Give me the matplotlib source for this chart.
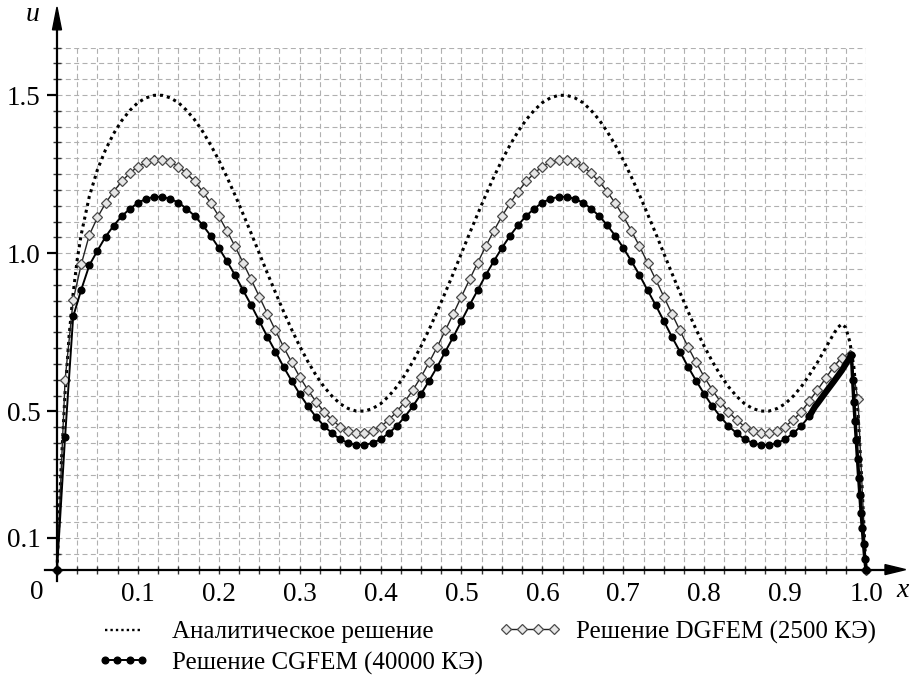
import numpy as np
import matplotlib
matplotlib.use("Agg")
import matplotlib.pyplot as plt
from matplotlib.patches import Polygon
from matplotlib.lines import Line2D

# ---------------- data ----------------
# analytic solution
an_head_x = [0.0, 0.005, 0.01, 0.015, 0.02, 0.025]
an_head_u = [0.0, 0.32, 0.56, 0.74, 0.874, 0.98]
an_mid_x = np.round(np.arange(3, 97) * 0.01, 2)          # 0.03 ... 0.96
an_mid_u = [1.060, 1.180, 1.264, 1.327, 1.378, 1.419, 1.451,
            1.476, 1.491, 1.499, 1.499, 1.491, 1.476, 1.452, 1.422, 1.385, 1.342,
            1.294, 1.241, 1.184, 1.124, 1.063, 1.000, 0.937, 0.876, 0.816, 0.759,
            0.706, 0.658, 0.615, 0.578, 0.548, 0.524, 0.509, 0.501, 0.501, 0.509,
            0.524, 0.548, 0.578, 0.615, 0.658, 0.706, 0.759, 0.816, 0.876, 0.937,
            1.000, 1.063, 1.124, 1.184, 1.241, 1.294, 1.342, 1.385, 1.422, 1.452,
            1.476, 1.491, 1.499, 1.499, 1.491, 1.476, 1.452, 1.422, 1.385, 1.342,
            1.294, 1.241, 1.184, 1.124, 1.063, 1.000, 0.937, 0.876, 0.816, 0.759,
            0.706, 0.658, 0.615, 0.578, 0.548, 0.524, 0.509, 0.501, 0.501, 0.509,
            0.524, 0.548, 0.578, 0.615, 0.655, 0.700, 0.745]
an_tail_x = [0.965, 0.97, 0.975, 0.98, 0.985, 0.99, 0.995, 1.0]
an_tail_u = [0.765, 0.776, 0.765, 0.72, 0.64, 0.50, 0.27, 0.0]

# DGFEM (2500 elements)
dg_x = np.round(np.arange(0, 101) * 0.01, 2)
dg_u = [0.0, 0.600, 0.852, 0.965, 1.058, 1.113, 1.158, 1.195, 1.227, 1.253,
        1.274, 1.287, 1.294, 1.294, 1.287, 1.274, 1.253, 1.227, 1.195, 1.158,
        1.117, 1.071, 1.022, 0.970, 0.917, 0.863, 0.809, 0.756, 0.704, 0.655,
        0.609, 0.568, 0.531, 0.499, 0.473, 0.452, 0.439, 0.432, 0.432, 0.439,
        0.452, 0.473, 0.499, 0.531, 0.568, 0.609, 0.655, 0.704, 0.756, 0.809,
        0.863, 0.917, 0.970, 1.022, 1.071, 1.117, 1.158, 1.195, 1.227, 1.253,
        1.274, 1.287, 1.294, 1.294, 1.287, 1.274, 1.253, 1.227, 1.195, 1.158,
        1.117, 1.071, 1.022, 0.970, 0.917, 0.863, 0.809, 0.756, 0.704, 0.655,
        0.609, 0.568, 0.531, 0.499, 0.473, 0.452, 0.439, 0.432, 0.432, 0.439,
        0.452, 0.473, 0.499, 0.533, 0.568, 0.604, 0.641, 0.670, 0.678, 0.540,
        0.0]

# CGFEM (40000 elements)
cg_x = np.round(np.arange(0, 94) * 0.01, 2)               # 0 ... 0.93
cg_u = [0.0, 0.42, 0.80, 0.885, 0.962, 1.008, 1.052, 1.087, 1.117, 1.140,
        1.159, 1.172, 1.178, 1.178, 1.172, 1.160, 1.141, 1.118, 1.089, 1.055,
        1.017, 0.975, 0.931, 0.883, 0.836, 0.786, 0.736, 0.689, 0.641, 0.597,
        0.555, 0.517, 0.483, 0.454, 0.431, 0.412, 0.400, 0.394, 0.394, 0.400,
        0.412, 0.431, 0.454, 0.483, 0.517, 0.555, 0.597, 0.641, 0.689, 0.736,
        0.786, 0.836, 0.883, 0.931, 0.975, 1.017, 1.055, 1.089, 1.118, 1.141,
        1.160, 1.172, 1.178, 1.178, 1.172, 1.160, 1.141, 1.118, 1.089, 1.055,
        1.017, 0.975, 0.931, 0.883, 0.836, 0.786, 0.736, 0.689, 0.641, 0.597,
        0.555, 0.517, 0.483, 0.454, 0.431, 0.412, 0.400, 0.394, 0.394, 0.400,
        0.412, 0.431, 0.454, 0.485]
cg_rise_x = [0.93, 0.937, 0.94, 0.95, 0.96, 0.97, 0.982]
cg_rise_u = [0.485, 0.515, 0.525, 0.560, 0.594, 0.629, 0.678]
cg_drop_x = [0.982, 0.9835, 0.985, 0.9865, 0.988, 0.9895, 0.991, 0.9925,
             0.994, 0.9955, 0.997, 0.9985, 1.0]
cg_drop_u = [0.678, 0.60, 0.53, 0.47, 0.41, 0.35, 0.29, 0.235, 0.18, 0.13,
             0.08, 0.035, 0.0]

x_ticks = [0.1, 0.2, 0.3, 0.4, 0.5, 0.6, 0.7, 0.8, 0.9, 1.0]
x_ticklabels = ["0.1", "0.2", "0.3", "0.4", "0.5", "0.6", "0.7", "0.8", "0.9", "1.0"]
y_ticks = [0.1, 0.5, 1.0, 1.5]
y_ticklabels = ["0.1", "0.5", "1.0", "1.5"]

label_an = "Аналитическое решение"
label_dg = "Решение DGFEM (2500 КЭ)"
label_cg = "Решение CGFEM (40000 КЭ)"

# ---------------- figure ----------------
plt.rcParams['font.family'] = ['Liberation Serif', 'DejaVu Serif']
W, H = 911, 677
fig = plt.figure(figsize=(W / 100, H / 100), dpi=100)
x0px, x1px = 57, 866
y0px = 569.6
ppu = 316.4
ymax = 1.65
ax = fig.add_axes([x0px / W, (H - y0px) / H, (x1px - x0px) / W, ymax * ppu / H])
ax.set_xlim(0, 1)
ax.set_ylim(0, ymax)
for s in ax.spines.values():
    s.set_visible(False)

# grid
gcol = '#b0b0b0'
gls = (0, (4.5, 3))
ax.hlines(np.arange(1, 34) * 0.05, 0, 1, colors=gcol, linestyles=gls, lw=0.8, zorder=1)
ax.vlines(np.arange(1, 41) * 0.025, 0, ymax, colors=gcol, linestyles=gls, lw=0.8, zorder=1)

# ticks
tfs = 19.5
ax.set_xticks(x_ticks)
ax.set_xticklabels(x_ticklabels)
ax.set_xticks(np.arange(1, 41) * 0.025, minor=True)
ax.set_yticks(y_ticks)
ax.set_yticklabels(y_ticklabels)
ax.set_yticks(np.arange(1, 34) * 0.05, minor=True)
ax.tick_params(axis='x', which='both', direction='inout', length=6, width=1.0,
               labelsize=tfs, pad=6, color='#333333')
ax.tick_params(axis='y', which='major', direction='out', length=7, width=1.6,
               labelsize=tfs, pad=5)
ax.tick_params(axis='y', which='minor', direction='inout', length=6, width=1.0,
               color='#333333')

# axes lines + arrows
ax.plot([-0.015, 1.025], [0, 0], color='black', lw=1.6, clip_on=False, zorder=5)
ax.plot([0, 0], [-0.035, 1.71], color='black', lw=1.6, clip_on=False, zorder=5)
dx = 1 / 809
du = 1 / ppu
ax.add_patch(Polygon([[1.0235, -5 * du], [1.0235, 5 * du], [1.049, 0]], closed=True,
                     color='black', clip_on=False, zorder=6))
ax.add_patch(Polygon([[-4.5 * dx, 1.706], [4.5 * dx, 1.706], [0, 1.778]], closed=True,
                     color='black', clip_on=False, zorder=6))
ax.text(-0.0247, -0.072, "0", fontsize=tfs, ha='center', va='center')
ax.text(1.045, -0.066, "x", fontsize=20, style='italic', ha='center', va='center')
ax.text(-0.03, 1.755, "u", fontsize=20, style='italic', ha='center', va='center')

# curves
an_x = list(an_head_x) + list(an_mid_x) + list(an_tail_x)
an_u = list(an_head_u) + list(an_mid_u) + list(an_tail_u)
dots = (0, (1.0, 1.3))
ax.plot(an_x, an_u, color='black', lw=2.2, ls=dots, zorder=3, clip_on=False)

dg_style = dict(color='#222222', lw=1.0, marker='D', ms=4.6, mfc='#e6e6e6',
                mec='#4a4a4a', mew=0.9)
ax.plot(dg_x, dg_u, zorder=4, clip_on=False, **dg_style)

cg_style = dict(color='black', lw=1.4, marker='o', ms=4.8, mfc='black', mec='black')
ax.plot(cg_x, cg_u, zorder=4, clip_on=False, **cg_style)
ax.plot(cg_rise_x, cg_rise_u, color='black', lw=4.5, solid_capstyle='round', zorder=4)
ax.plot(cg_drop_x, cg_drop_u, color='black', lw=2.5, marker='o', ms=5, zorder=4,
        clip_on=False)

# legend (three single-entry legends placed like the original)
h_an = Line2D([], [], color='black', lw=1.7, ls=dots)
h_dg = Line2D([], [], **dg_style)
h_cg = Line2D([], [], **cg_style)
fs_leg = 18
common = dict(frameon=False, borderpad=0, borderaxespad=0, fontsize=fs_leg,
              numpoints=4, loc='center left', bbox_transform=fig.transFigure)
leg1 = ax.legend([h_an], [label_an], handlelength=2.1, handletextpad=0.9,
                 bbox_to_anchor=(97 / W, 1 - 632 / H), **common)
ax.add_artist(leg1)
leg2 = ax.legend([h_dg], [label_dg], handlelength=2.5, handletextpad=0.6,
                 bbox_to_anchor=(499 / W, 1 - 632 / H), **common)
ax.add_artist(leg2)
leg3 = ax.legend([h_cg], [label_cg], handlelength=2.1, handletextpad=0.9,
                 bbox_to_anchor=(97 / W, 1 - 663 / H), **common)

fig.savefig("out.png", dpi=100)
